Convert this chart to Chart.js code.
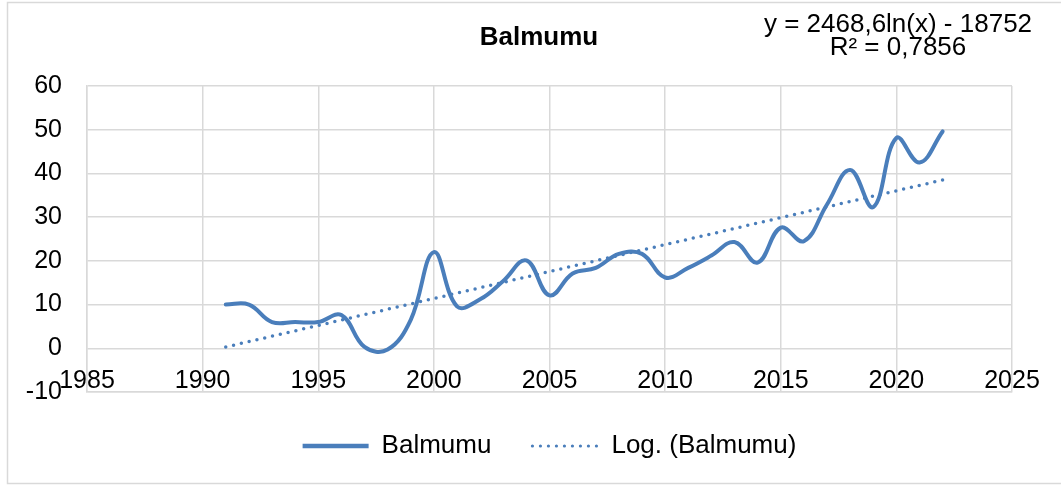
<!DOCTYPE html>
<html>
<head>
<meta charset="utf-8">
<script src="https://cdn.jsdelivr.net/npm/chart.js@4.4.1/dist/chart.umd.min.js"></script>
<style>
  html, body { margin: 0; padding: 0; background: #ffffff; }
  #wrap { width: 1061px; height: 487px; position: relative; }
  canvas { display: block; }
</style>
</head>
<body>
<div id="wrap"><canvas id="c" width="1061" height="487"></canvas></div>
<script>
// ---- data ----
const chartTitle = 'Balmumu';
const seriesName = 'Balmumu';
const trendName = 'Log. (Balmumu)';
const equationLines = ['y = 2468,6ln(x) - 18752', 'R\u00B2 = 0,7856'];

const years = [1991, 1992, 1993, 1994, 1995, 1996, 1997, 1998, 1999, 2000,
               2001, 2002, 2003, 2004, 2005, 2006, 2007, 2008, 2009, 2010,
               2011, 2012, 2013, 2014, 2015, 2016, 2017, 2018, 2019, 2020,
               2021, 2022];
const values = [10, 10, 6, 6, 6, 7.6, 0.3, -0.3, 6.5, 22,
                9.6, 11.2, 15.4, 20.1, 12.1, 17.1, 18.4, 21.6, 21.6, 16.2,
                18.4, 21.2, 24.3, 19.6, 27.6, 24.5, 32.9, 40.8, 32.3, 48.1,
                42.5, 49.6];

// trend line end points
const trendYears = [1991, 2022];
const trendValues = [0.3, 38.5];

const xTicks = [1985, 1990, 1995, 2000, 2005, 2010, 2015, 2020, 2025];
const yTicks = [-10, 0, 10, 20, 30, 40, 50, 60];

// ---- styling ----
const BLUE = '#4a7ebb';
const GRID = '#d9d9d9';
const FAMILY = '"Liberation Sans", Arial, sans-serif';
Chart.defaults.font.family = FAMILY;
Chart.defaults.color = '#000000';

const decorPlugin = {
  id: 'decor',
  beforeDraw(chart) {
    const ctx = chart.ctx;
    ctx.save();
    ctx.fillStyle = '#ffffff';
    ctx.fillRect(0, 0, chart.width, chart.height);
    ctx.strokeStyle = GRID;
    ctx.lineWidth = 1.5;
    ctx.strokeRect(7.5, 2.5, 1060, 481);
    ctx.restore();
  },
  afterDraw(chart) {
    const ctx = chart.ctx;
    ctx.save();
    ctx.fillStyle = '#000000';
    ctx.textAlign = 'center';
    ctx.textBaseline = 'middle';
    ctx.font = 'bold 26px ' + FAMILY;
    ctx.fillText(chartTitle, 539, 38);
    ctx.font = '26px ' + FAMILY;
    ctx.fillText(equationLines[0], 898, 25);
    ctx.fillText(equationLines[1], 898, 48);
    ctx.restore();
  }
};

new Chart(document.getElementById('c'), {
  type: 'line',
  data: {
    datasets: [
      {
        label: seriesName,
        data: years.map((yr, i) => ({ x: yr, y: values[i] })),
        borderColor: BLUE,
        backgroundColor: BLUE,
        borderWidth: 4,
        tension: 0.4,
        pointRadius: 0,
        fill: false,
        borderCapStyle: 'round',
        borderJoinStyle: 'round'
      },
      {
        label: trendName,
        data: trendYears.map((yr, i) => ({ x: yr, y: trendValues[i] })),
        borderColor: BLUE,
        backgroundColor: BLUE,
        borderWidth: 3.5,
        borderDash: [0, 8],
        borderCapStyle: 'round',
        tension: 0,
        pointRadius: 0,
        fill: false
      }
    ]
  },
  options: {
    responsive: false,
    animation: false,
    devicePixelRatio: 1,
    events: [],
    layout: { padding: { top: 86, left: 0, right: 49, bottom: 18 } },
    plugins: {
      title: { display: false },
      tooltip: { enabled: false },
      legend: {
        display: true,
        position: 'bottom',
        fullSize: false,
        labels: {
          usePointStyle: true,
          pointStyleWidth: 66,
          padding: 41,
          color: '#000000',
          font: { size: 26, family: FAMILY },
          generateLabels(chart) {
            return chart.data.datasets.map((ds, i) => ({
              text: ds.label,
              fillStyle: BLUE,
              strokeStyle: BLUE,
              lineWidth: i === 0 ? 4.5 : 3.2,
              lineDash: i === 0 ? [] : [0, 8],
              lineCap: i === 0 ? 'butt' : 'round',
              pointStyle: 'line',
              hidden: !chart.isDatasetVisible(i),
              datasetIndex: i,
              fontColor: '#000000'
            }));
          }
        }
      }
    },
    scales: {
      x: {
        type: 'linear',
        min: xTicks[0],
        max: xTicks[xTicks.length - 1],
        afterBuildTicks(scale) { scale.ticks = xTicks.map(v => ({ value: v })); },
        afterFit(scale) { scale.height = 0; },
        grid: { color: GRID, lineWidth: 1.5, drawTicks: false },
        border: { color: GRID, width: 1.5 },
        ticks: {
          mirror: true,
          padding: -4,
          autoSkip: false,
          maxRotation: 0,
          color: '#000000',
          font: { size: 25, family: FAMILY },
          callback: v => String(v)
        }
      },
      y: {
        type: 'linear',
        min: yTicks[0],
        max: yTicks[yTicks.length - 1],
        afterBuildTicks(scale) { scale.ticks = yTicks.map(v => ({ value: v })); },
        afterFit(scale) { scale.width = 87; },
        grid: { color: GRID, lineWidth: 1.5, drawTicks: false },
        border: { color: GRID, width: 1.5 },
        ticks: {
          padding: 25,
          color: '#000000',
          font: { size: 25, family: FAMILY },
          callback: v => String(v)
        }
      }
    }
  },
  plugins: [decorPlugin]
});
</script>
</body>
</html>
